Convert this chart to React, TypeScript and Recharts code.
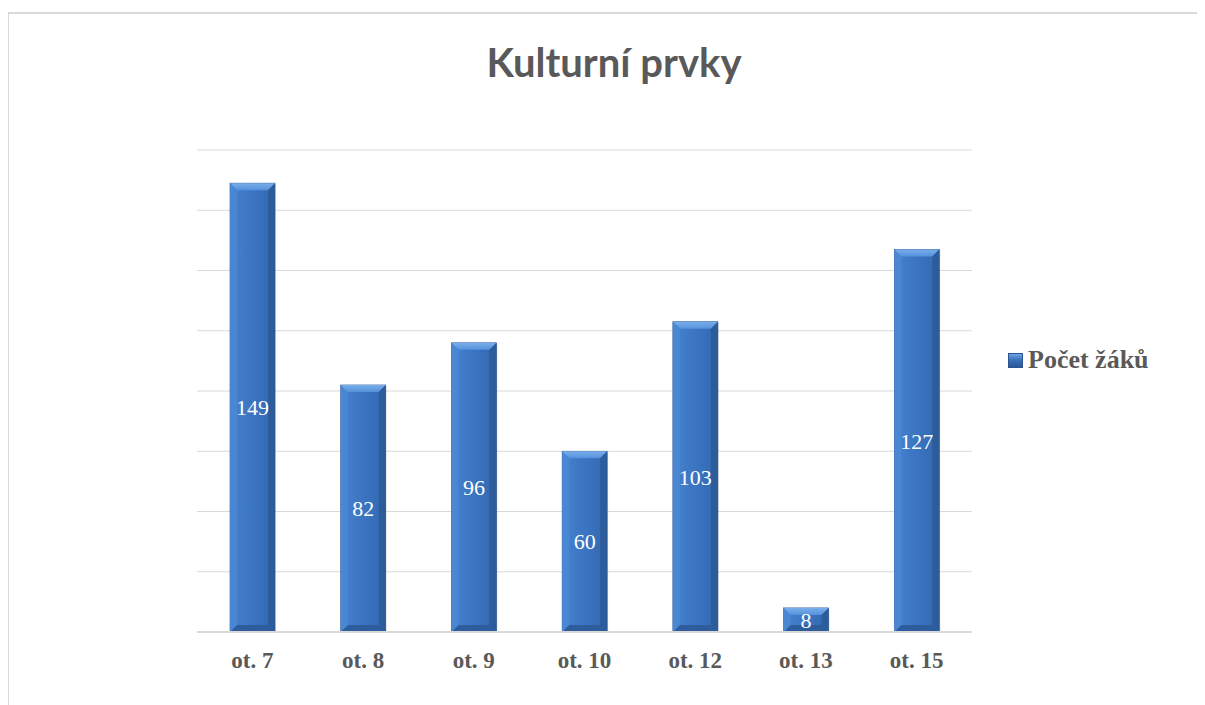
import { BarChart, Bar, XAxis, YAxis, CartesianGrid, Legend, LabelList } from 'recharts';

const categories = ['ot. 7', 'ot. 8', 'ot. 9', 'ot. 10', 'ot. 12', 'ot. 13', 'ot. 15'];
const pocetZaku = [149, 82, 96, 60, 103, 8, 127];
const yTicks = [0, 20, 40, 60, 80, 100, 120, 140, 160];

const data = categories.map((c, i) => ({ name: c, value: pocetZaku[i] }));

const SERIF = '"Liberation Serif", "Times New Roman", serif';
const GREY_TEXT = '#595959';

// bar with a bevelled look, like the office chart style
function BevelBar(props: any) {
  const { x, y, width, height } = props;
  if (!height || height <= 0) return null;
  const b = Math.min(7, height / 3);
  return (
    <g>
      <rect x={x + 1} y={y + 1} width={width} height={height} fill="#000" opacity={0.12} />
      <rect x={x} y={y} width={width} height={height} fill="url(#barBody)" stroke="#2a5490" strokeWidth={0.6} />
      <polygon
        points={`${x},${y} ${x + width},${y} ${x + width - b},${y + b} ${x + b},${y + b}`}
        fill="url(#barTop)"
      />
      <polygon
        points={`${x},${y + height} ${x + width},${y + height} ${x + width - b},${y + height - b} ${x + b},${y + height - b}`}
        fill="#2d5d9c"
      />
      <polygon
        points={`${x},${y} ${x + b},${y + b} ${x + b},${y + height - b} ${x},${y + height}`}
        fill="#4d8ad6"
        opacity={0.7}
      />
      <polygon
        points={`${x + width},${y} ${x + width - b},${y + b} ${x + width - b},${y + height - b} ${x + width},${y + height}`}
        fill="#2c5995"
        opacity={0.8}
      />
    </g>
  );
}

function LegendContent() {
  return (
    <div style={{ display: 'flex', alignItems: 'center', fontFamily: SERIF, fontWeight: 'bold', fontSize: 26, color: GREY_TEXT }}>
      <span
        style={{
          display: 'inline-block',
          width: 13,
          height: 13,
          marginRight: 5,
          background: 'linear-gradient(180deg, #6fa3e3 0%, #3a72bd 45%, #2c5995 100%)',
          border: '1px solid #2a5490',
        }}
      />
      Počet žáků
    </div>
  );
}

export default function App() {
  return (
    <div style={{ position: 'relative', width: 1189, height: 697 }}>
      <div
        style={{
          position: 'absolute',
          left: -1,
          top: 4,
          width: 1198,
          height: 700,
          borderTop: '2px solid #d9d9d9',
          borderLeft: '2px solid #d9d9d9',
        }}
      />
      <div
        style={{
          position: 'absolute',
          left: 0,
          width: 1212,
          top: 30,
          textAlign: 'center',
          fontFamily: 'Lato, "Open Sans", sans-serif',
          fontWeight: 'bold',
          fontSize: 40,
          color: GREY_TEXT,
        }}
      >
        Kulturní prvky
      </div>
      <BarChart
        width={1189}
        height={697}
        data={data}
        margin={{ top: 142, right: 35, left: 189, bottom: 43 }}
        style={{ position: 'absolute', left: 0, top: 0 }}
      >
        <defs>
          <linearGradient id="barBody" x1="0" y1="0" x2="1" y2="0">
            <stop offset="0%" stopColor="#4683d0" />
            <stop offset="50%" stopColor="#3b74c1" />
            <stop offset="100%" stopColor="#3268b0" />
          </linearGradient>
          <linearGradient id="barTop" x1="0" y1="0" x2="0" y2="1">
            <stop offset="0%" stopColor="#7aaeea" />
            <stop offset="100%" stopColor="#5592dc" />
          </linearGradient>
        </defs>
        <CartesianGrid vertical={false} stroke="#d9d9d9" strokeWidth={1} />
        <YAxis hide domain={[0, 160]} ticks={yTicks} />
        <XAxis
          dataKey="name"
          axisLine={{ stroke: '#d9d9d9', strokeWidth: 2 }}
          tickLine={false}
          tickSize={0}
          tickMargin={20}
          height={30}
          tick={{ fill: GREY_TEXT, fontFamily: SERIF, fontWeight: 'bold', fontSize: 23 }}
        />
        <Legend
          layout="vertical"
          align="right"
          verticalAlign="middle"
          content={<LegendContent />}
          wrapperStyle={{ left: 1000, top: 337, width: 190 }}
        />
        <Bar dataKey="value" name="Počet žáků" barSize={45} shape={<BevelBar />} isAnimationActive={false}>
          <LabelList dataKey="value" position="center" fill="#ffffff" fontFamily={SERIF} fontSize={22} />
        </Bar>
      </BarChart>
    </div>
  );
}
